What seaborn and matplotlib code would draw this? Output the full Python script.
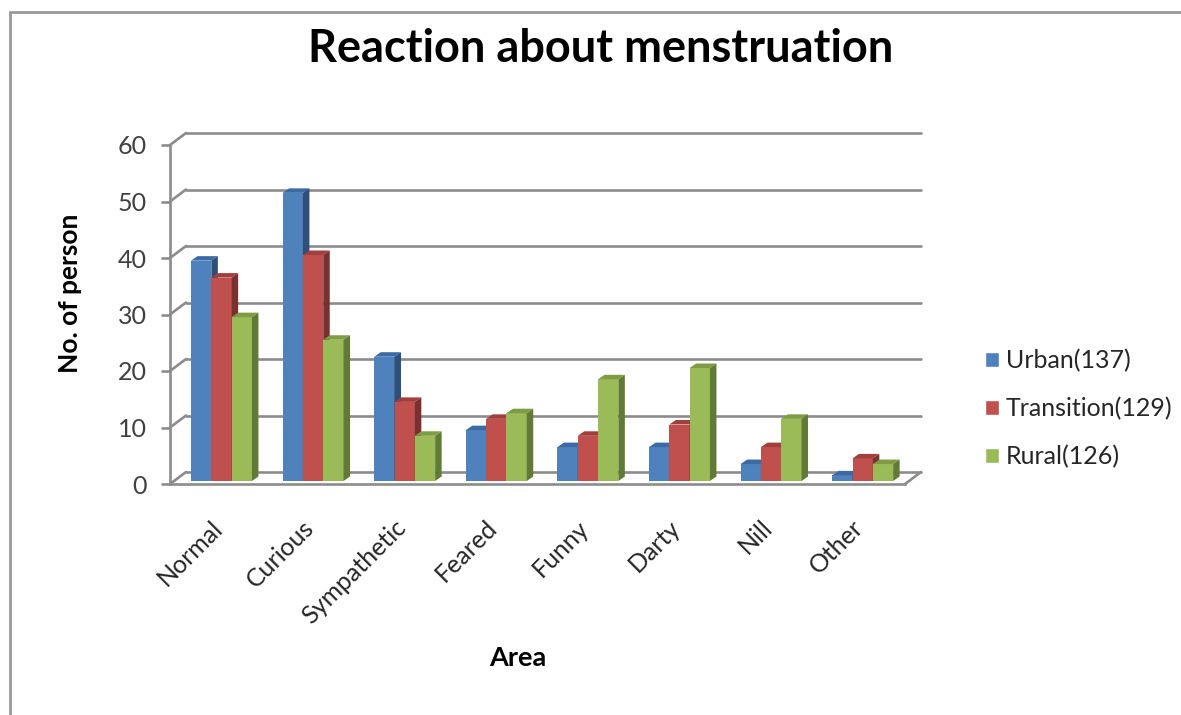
import matplotlib
matplotlib.use("Agg")
import matplotlib.pyplot as plt
import pandas as pd
import seaborn as sns
from matplotlib.lines import Line2D
from matplotlib.patches import Polygon
from matplotlib.transforms import Affine2D

categories = ["Normal", "Curious", "Sympathetic", "Feared", "Funny", "Darty", "Nill", "Other"]
series_names = ["Urban(137)", "Transition(129)", "Rural(126)"]
urban = [39, 51, 22, 9, 6, 6, 3, 1]
transition = [36, 40, 14, 11, 8, 10, 6, 4]
rural = [29, 25, 8, 12, 18, 20, 11, 3]
y_ticks = [0, 10, 20, 30, 40, 50, 60]

front_colors = ["#4F81BD", "#C0504D", "#9BBB59"]
top_colors = ["#3B6BA5", "#A23F3C", "#7F9C45"]
side_colors = ["#2F4F78", "#7A302E", "#617A36"]
line_color = "#8C8C8C"
text_color = "#404040"

W, H = 1181, 715

sns.set_theme(style="white")
plt.rcParams["font.family"] = ["Lato", "DejaVu Sans"]

df = pd.DataFrame({
    "Reaction": categories * 3,
    "Count": urban + transition + rural,
    "Area": [s for s in series_names for _ in categories],
})

fig = plt.figure(figsize=(W / 100, H / 100), dpi=100)
ax = fig.add_axes([170 / W, 1 - 484 / H, 735 / W, 339 / H])
ax.patch.set_alpha(0)

sns.barplot(data=df, x="Reaction", y="Count", hue="Area", hue_order=series_names,
            palette=front_colors, width=0.665, saturation=1, ax=ax, legend=True)

x_left, x_right = -0.562, 7.462
ax.set_xlim(x_left, x_right)
ax.set_ylim(0, 60)
ax.set_yticks(y_ticks)

px_x = 735 / (x_right - x_left)
px_y = 339 / 60

# back wall sits up and to the right of the front plane
wall_dx, wall_dy = 16 / px_x, 12 / px_y
for v in y_ticks:
    ax.plot([x_left + wall_dx, x_right + wall_dx], [v + wall_dy, v + wall_dy],
            color=line_color, lw=1.9, clip_on=False, zorder=1)
    ax.plot([x_left, x_left + wall_dx], [v, v + wall_dy],
            color=line_color, lw=1.9, clip_on=False, zorder=1)
ax.plot([x_right, x_right + wall_dx], [0, wall_dy],
        color=line_color, lw=1.9, clip_on=False, zorder=1)

# fake 3D faces for the bars
bar_shift = ax.transData + Affine2D().translate(0, 3)
depth_x, depth_y = 6.5 / px_x, 4.5 / px_y
for i, container in enumerate(ax.containers):
    for bar in container:
        x0 = bar.get_x()
        x1 = x0 + bar.get_width()
        h = bar.get_height()
        bar.set_transform(bar_shift)
        bar.set_zorder(3 + i)
        bar.set_linewidth(0)
        top = Polygon([(x0, h), (x1, h), (x1 + depth_x, h + depth_y), (x0 + depth_x, h + depth_y)],
                      facecolor=top_colors[i], edgecolor="none", transform=bar_shift, zorder=3 + i)
        side = Polygon([(x1, 0), (x1 + depth_x, depth_y), (x1 + depth_x, h + depth_y), (x1, h)],
                       facecolor=side_colors[i], edgecolor="none", transform=bar_shift, zorder=3 + i)
        ax.add_patch(top)
        ax.add_patch(side)

for name in ["top", "right"]:
    ax.spines[name].set_visible(False)
for name in ["left", "bottom"]:
    ax.spines[name].set_color(line_color)
    ax.spines[name].set_linewidth(1.9)
    ax.spines[name].set_zorder(2)

ax.tick_params(axis="y", length=6.5, width=1.9, color=line_color, left=True,
               labelsize=18, labelcolor=text_color, pad=10)
ax.tick_params(axis="x", length=0, pad=23, labelsize=18, labelcolor="#262626")
plt.setp(ax.get_xticklabels(), rotation=45, ha="right", rotation_mode="anchor")
for label in ax.get_xticklabels():
    label.set_transform(label.get_transform() + Affine2D().translate(-11, 0))

ax.set_xlabel("")
ax.set_ylabel("")
fig.text(601 / W, 1 - 49 / H, "Reaction about menstruation", fontsize=32.5, fontweight="bold",
         color="black", ha="center", va="center")
fig.text(70 / W, 1 - 293 / H, "No. of person", fontsize=19, fontweight="bold",
         color="black", rotation=90, ha="center", va="center")
fig.text(518 / W, 1 - 658 / H, "Area", fontsize=19.5, fontweight="bold",
         color="black", ha="center", va="center")

ax.legend(title=None, frameon=False, loc="center left", bbox_to_anchor=(985 / W, 1 - 409 / H),
          bbox_transform=fig.transFigure, fontsize=18, handlelength=0.56, handleheight=0.56,
          handletextpad=0.28, labelspacing=0.99, labelcolor="#262626", borderpad=0, borderaxespad=0)

# outer chart frame, cut off by the crop on the right and bottom
fig.add_artist(Line2D([10 / W, 10 / W], [0, 1 - 12 / H], color="#9A9A9A", lw=2))
fig.add_artist(Line2D([10 / W, 1], [1 - 12 / H, 1 - 12 / H], color="#9A9A9A", lw=2))

fig.savefig("out.png", dpi=100)
plt.close(fig)
